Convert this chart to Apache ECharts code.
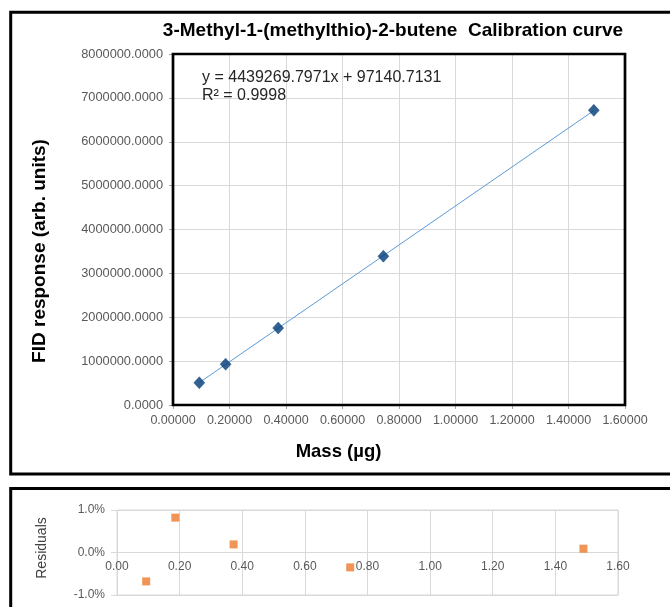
<!DOCTYPE html>
<html>
<head>
<meta charset="utf-8">
<script src="https://cdn.jsdelivr.net/npm/echarts@6/dist/echarts.min.js"></script>
<style>
  html, body { margin: 0; padding: 0; background: #fff; }
  #chart { width: 670px; height: 607px; }
</style>
</head>
<body>
<div id="chart"></div>
<script>
// Calibration standards: injected mass (µg) and FID peak response
const massUg = [0.0931, 0.1862, 0.3724, 0.7448, 1.4896];
const fidResponse = [507000, 931000, 1754000, 3392000, 6716000];
// Relative residuals of each standard against the fitted line (%)
const residualPct = [-0.68, 0.82, 0.19, -0.35, 0.09];

// Linear least-squares fit reported on the chart
const fitSlope = 4439269.7971;
const fitIntercept = 97140.7131;
const fitR2 = 0.9998;

// Axis tick settings
const respTicks = { min: 0, max: 8000000, interval: 1000000 };
const massTicks = { min: 0, max: 1.6, interval: 0.2 };
const residTicks = { min: -1, max: 1, interval: 1 };

const FONT = '"Liberation Sans", Arial, sans-serif';
const GRID_LINE = '#d9d9d9';
const LABEL_GREY = '#595959';

// Trendline spans the calibrated range
const xFirst = massUg[0];
const xLast = massUg[massUg.length - 1];
const trendLine = [
  [xFirst, fitSlope * xFirst + fitIntercept],
  [xLast, fitSlope * xLast + fitIntercept]
];

const chart = echarts.init(document.getElementById('chart'), null, { renderer: 'canvas' });

const mainGrid = { left: 173, top: 54, width: 452, height: 351 };
const residGrid = { left: 117, top: 510, width: 501, height: 85 };

chart.setOption({
  animation: false,
  backgroundColor: '#ffffff',
  textStyle: { fontFamily: FONT },
  grid: [
    Object.assign({ containLabel: false }, mainGrid),
    Object.assign({ containLabel: false, show: true, borderColor: GRID_LINE, borderWidth: 1 }, residGrid)
  ],
  xAxis: [
    {
      type: 'value', gridIndex: 0,
      min: massTicks.min, max: massTicks.max, interval: massTicks.interval,
      axisLine: { show: false },
      axisTick: { show: true, length: 4, lineStyle: { color: '#a6a6a6' } },
      axisLabel: { fontSize: 12.5, color: LABEL_GREY, margin: 9, fontFamily: FONT,
        formatter: v => v.toFixed(5) },
      splitLine: { show: true, lineStyle: { color: GRID_LINE, width: 1 } }
    },
    {
      // mass labels sit just under the zero line of the residual plot
      type: 'value', gridIndex: 1, position: 'bottom', offset: -residGrid.height / 2,
      min: massTicks.min, max: massTicks.max, interval: massTicks.interval,
      axisLine: { show: true, onZero: false, lineStyle: { color: GRID_LINE } },
      axisTick: { show: false },
      axisLabel: { fontSize: 12, color: LABEL_GREY, margin: 8, fontFamily: FONT,
        formatter: v => v.toFixed(2) },
      splitLine: { show: true, lineStyle: { color: GRID_LINE, width: 1 } }
    }
  ],
  yAxis: [
    {
      type: 'value', gridIndex: 0,
      min: respTicks.min, max: respTicks.max, interval: respTicks.interval,
      axisLine: { show: false },
      axisTick: { show: true, length: 4, lineStyle: { color: '#a6a6a6' } },
      axisLabel: { fontSize: 12.8, color: LABEL_GREY, margin: 10, fontFamily: FONT,
        formatter: v => v.toFixed(4) },
      splitLine: { show: true, lineStyle: { color: GRID_LINE, width: 1 } }
    },
    {
      type: 'value', gridIndex: 1,
      min: residTicks.min, max: residTicks.max, interval: residTicks.interval,
      axisLine: { show: false },
      axisTick: { show: true, length: 6, lineStyle: { color: GRID_LINE } },
      axisLabel: { fontSize: 12, color: LABEL_GREY, margin: 12, fontFamily: FONT,
        formatter: v => v.toFixed(1) + '%' },
      splitLine: { show: true, lineStyle: { color: GRID_LINE, width: 1 } }
    }
  ],
  series: [
    {
      name: 'Linear fit', type: 'line', xAxisIndex: 0, yAxisIndex: 0,
      data: trendLine, symbol: 'none', silent: true,
      lineStyle: { color: '#5b9bd5', width: 1 }, z: 3
    },
    {
      name: 'Standards', type: 'scatter', xAxisIndex: 0, yAxisIndex: 0,
      data: massUg.map((m, i) => [m, fidResponse[i]]),
      symbol: 'diamond', symbolSize: [11, 12],
      itemStyle: { color: '#003a75', borderColor: '#003a75', borderWidth: 0.5 }, z: 4
    },
    {
      name: 'Residuals', type: 'scatter', xAxisIndex: 1, yAxisIndex: 1,
      data: massUg.map((m, i) => [m, residualPct[i]]),
      symbol: 'rect', symbolSize: 8,
      itemStyle: { color: '#ec7a2c' }, z: 4
    }
  ],
  graphic: [
    // outer chart frames
    { type: 'rect', z: 100, silent: true,
      shape: { x: 10.7, y: 12.2, width: 720, height: 461.8 },
      style: { fill: 'none', stroke: '#000', lineWidth: 3 } },
    { type: 'rect', z: 100, silent: true,
      shape: { x: 10.7, y: 488.5, width: 720, height: 200 },
      style: { fill: 'none', stroke: '#000', lineWidth: 3 } },
    // plot area border of the calibration chart
    { type: 'rect', z: 100, silent: true,
      shape: { x: mainGrid.left, y: mainGrid.top, width: mainGrid.width, height: mainGrid.height },
      style: { fill: 'none', stroke: '#000', lineWidth: 2.7 } },
    // title
    { type: 'text', z: 101, x: 393, y: 31,
      style: { text: '3-Methyl-1-(methylthio)-2-butene  Calibration curve',
        font: 'bold 19px ' + FONT, fill: '#000', align: 'center', verticalAlign: 'middle' } },
    // fit equation
    { type: 'text', z: 101, x: 202, y: 69,
      style: { text: 'y = ' + fitSlope.toFixed(4) + 'x + ' + fitIntercept.toFixed(4) + '\nR² = ' + fitR2.toFixed(4),
        font: '16px ' + FONT, fill: '#262626', lineHeight: 18 } },
    // axis titles
    { type: 'text', z: 101, x: 40, y: 251, rotation: Math.PI / 2,
      style: { text: 'FID response (arb. units)', font: 'bold 19px ' + FONT, fill: '#000',
        align: 'center', verticalAlign: 'middle' } },
    { type: 'text', z: 101, x: 338.5, y: 452,
      style: { text: 'Mass (µg)', font: 'bold 18.5px ' + FONT, fill: '#000',
        align: 'center', verticalAlign: 'middle' } },
    { type: 'text', z: 101, x: 42, y: 548, rotation: Math.PI / 2,
      style: { text: 'Residuals', font: '14px ' + FONT, fill: '#404040',
        align: 'center', verticalAlign: 'middle' } }
  ]
});
</script>
</body>
</html>
